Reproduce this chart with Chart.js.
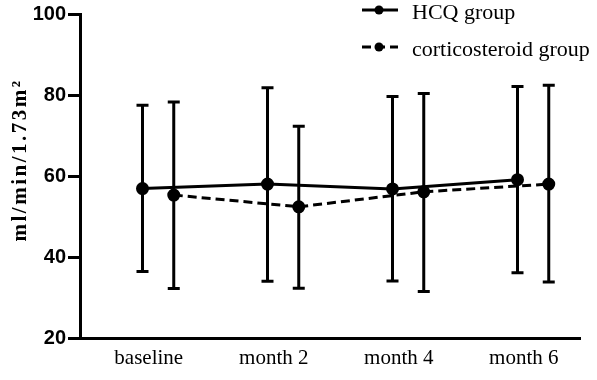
<!DOCTYPE html>
<html>
<head>
<meta charset="utf-8">
<script src="https://cdn.jsdelivr.net/npm/chart.js@4"></script>
<style>
  body { margin: 0; background: #fff; }
  #wrap { width: 597px; height: 380px; }
</style>
</head>
<body>
<div id="wrap"><canvas id="myChart" width="597" height="380"></canvas></div>
<script>
// --data--
const labels = ['baseline', 'month 2', 'month 4', 'month 6'];
const hcqMean = [56.9, 58.0, 56.8, 59.1];
const hcqUpper = [77.5, 81.8, 79.6, 82.1];
const hcqLower = [36.4, 34.0, 34.1, 36.1];
const corMean = [55.3, 52.4, 56.1, 58.0];
const corUpper = [78.3, 72.3, 80.4, 82.4];
const corLower = [32.2, 32.3, 31.5, 33.8];
const yTicks = [20, 40, 60, 80, 100];
const corShift = 0.25; // corticosteroid group drawn a bit to the right
//------------------------------

const errorBars = {
    id: 'errorBars',
    beforeDatasetsDraw(chart) {
        const { ctx, scales: { x, y } } = chart;
        const groups = [
            { lo: hcqLower, hi: hcqUpper, shift: 0 },
            { lo: corLower, hi: corUpper, shift: corShift }
        ];
        ctx.save();
        ctx.strokeStyle = '#000';
        ctx.lineWidth = 3;
        groups.forEach(g => {
            g.lo.forEach((lo, i) => {
                const px = x.getPixelForValue(i + g.shift);
                const top = y.getPixelForValue(g.hi[i]);
                const bot = y.getPixelForValue(lo);
                ctx.beginPath();
                ctx.moveTo(px, top); ctx.lineTo(px, bot);
                ctx.moveTo(px - 6, top); ctx.lineTo(px + 6, top);
                ctx.moveTo(px - 6, bot); ctx.lineTo(px + 6, bot);
                ctx.stroke();
            });
        });
        ctx.restore();
    }
};

const extras = {
    id: 'extras',
    afterDraw(chart) {
        const { ctx } = chart;
        ctx.save();
        // y title
        ctx.translate(21, 160);
        ctx.rotate(-Math.PI / 2);
        ctx.fillStyle = '#000';
        ctx.font = 'bold 21px "Liberation Serif", serif';
        ctx.letterSpacing = '2.5px';
        ctx.textAlign = 'center';
        ctx.textBaseline = 'middle';
        ctx.fillText('ml/min/1.73m²', 0, 0);
        ctx.restore();

        // legend
        ctx.save();
        const items = [
            { text: 'HCQ group', y: 10, dash: [] },
            { text: 'corticosteroid group', y: 47, dash: [9, 5] }
        ];
        items.forEach(it => {
            ctx.strokeStyle = '#000';
            ctx.lineWidth = 3;
            ctx.setLineDash(it.dash);
            ctx.beginPath();
            ctx.moveTo(362, it.y); ctx.lineTo(398, it.y);
            ctx.stroke();
            ctx.setLineDash([]);
            ctx.fillStyle = '#000';
            ctx.beginPath();
            ctx.arc(379, it.y, 4.5, 0, Math.PI * 2);
            ctx.fill();
            ctx.font = '22px "Liberation Serif", serif';
            ctx.textAlign = 'left';
            ctx.textBaseline = 'middle';
            ctx.fillText(it.text, 412, it.y + 3);
        });
        ctx.restore();
    }
};

const ctx = document.getElementById('myChart');
new Chart(ctx, {
    type: 'line',
    data: {
        datasets: [{
            label: 'HCQ group',
            data: hcqMean.map((v, i) => ({ x: i, y: v })),
            borderColor: '#000',
            backgroundColor: '#000',
            borderWidth: 3,
            pointRadius: 5,
            pointHoverRadius: 5
        }, {
            label: 'corticosteroid group',
            data: corMean.map((v, i) => ({ x: i + corShift, y: v })),
            borderColor: '#000',
            backgroundColor: '#000',
            borderWidth: 3,
            borderDash: [9, 5],
            pointRadius: 5,
            pointHoverRadius: 5
        }]
    },
    options: {
        responsive: false,
        animation: false,
        layout: { padding: { top: 12, right: 17, left: 0, bottom: 0 } },
        plugins: { legend: { display: false }, tooltip: { enabled: false } },
        scales: {
            x: {
                type: 'linear',
                min: -0.5,
                max: 3.5,
                afterBuildTicks: (scale) => { scale.ticks = labels.map((l, i) => ({ value: i + 0.05 })); },
                afterFit: (scale) => { scale.height = 42; },
                ticks: {
                    callback: (v, i) => labels[i],
                    color: '#000',
                    font: { family: '"Liberation Serif", serif', size: 21 },
                    padding: 8,
                    autoSkip: false,
                    maxRotation: 0
                },
                grid: { drawOnChartArea: false, drawTicks: false },
                border: { color: '#000', width: 3 }
            },
            y: {
                min: 20,
                max: 100,
                afterBuildTicks: (scale) => { scale.ticks = yTicks.map(v => ({ value: v })); },
                afterFit: (scale) => { scale.width = 80; },
                ticks: {
                    color: '#000',
                    font: { family: '"Liberation Sans", Arial, sans-serif', size: 20, weight: 'bold' },
                    padding: 2
                },
                grid: { drawOnChartArea: false, drawTicks: true, tickLength: 12, lineWidth: 3, color: '#000' },
                border: { color: '#000', width: 3 }
            }
        }
    },
    plugins: [errorBars, extras]
});
</script>
</body>
</html>
